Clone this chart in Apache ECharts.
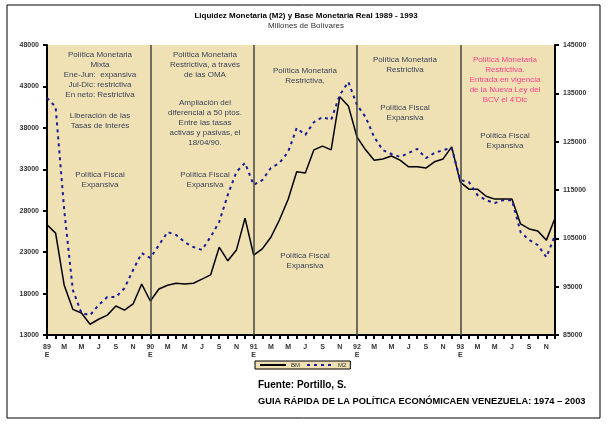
<!DOCTYPE html>
<html><head><meta charset="utf-8">
<script src="https://cdn.jsdelivr.net/npm/echarts@6/dist/echarts.min.js"></script>
<style>html,body{margin:0;background:#fff}#c{width:612px;height:424px}</style>
</head><body><div id="c"></div>
<script>
const FUENTE = 'Liberation Sans, Arial, sans-serif';
const FONDO = '#efe1b3';

// Meses ene-1989 .. dic-1993
const ANIOS = ['89', '90', '91', '92', '93'];
const INICIALES = ['E', 'F', 'M', 'A', 'M', 'J', 'J', 'A', 'S', 'O', 'N', 'D'];
const meses = [];
ANIOS.forEach(a => INICIALES.forEach((m, i) => meses.push(i === 0 ? a + '\nE' : m)));

// Base Monetaria real (eje izq.) y M2 (eje der.), millones de Bs.
const BM = [
  26300, 25300, 19000, 16100, 15650, 14300, 14900, 15400, 16500, 16000, 16750, 19150,
  17100, 18550, 19000, 19250, 19150, 19250, 19750, 20250, 23600, 21950, 23250, 27100,
  22650, 23400, 24800, 26900, 29350, 32700, 32550, 35350, 35800, 35350, 41750, 40650,
  36900, 35350, 34100, 34250, 34600, 34100, 33300, 33300, 33150, 33900, 34250, 35700,
  31450, 30600, 30600, 29750, 29400, 29400, 29400, 26400, 25800, 25550, 24450, 27100
];
const M2 = [
  134050, 132200, 110850, 94300, 89550, 89100, 91200, 92850, 92850, 94700, 98450, 101950,
  100950, 103600, 106300, 105700, 104200, 103200, 102600, 105300, 108400, 114000, 118750, 120600,
  116050, 117050, 119550, 120600, 122850, 127800, 126400, 129050, 130100, 129500, 134650, 137350,
  132600, 130100, 125950, 123250, 122450, 121850, 122650, 123500, 121600, 122650, 123250, 123700,
  117050, 116650, 113950, 112900, 112300, 112900, 112900, 106300, 104650, 103600, 101100, 105650
];

// Notas por periodo: [x, y, texto, color]
const NOTAS = [
  [100, 50, 'Política Monetaria\nMixta\nEne-Jun:  expansiva\nJul-Dic: restrictiva\nEn neto: Restrictiva'],
  [100, 111, 'Liberación de las\nTasas de Interés'],
  [100, 170, 'Política Fiscal\nExpansiva'],
  [205, 50, 'Política Monetaria\nRestrictiva, a través\nde las OMA'],
  [205, 98, 'Ampliación del\ndiferencial a 50 ptos.\nEntre las tasas\nactivas y pasivas, el\n18/04/90.'],
  [205, 170, 'Política Fiscal\nExpansiva'],
  [305, 66, 'Política Monetaria\nRestrictiva,'],
  [305, 251, 'Política Fiscal\nExpansiva'],
  [405, 55, 'Política Monetaria\nRestrictiva'],
  [405, 103, 'Política Fiscal\nExpansiva'],
  [505, 55, 'Política Monetaria\nRestrictiva.\nEntrada en vigencia\nde la Nueva Ley del\nBCV el 4\'Dic', '#ff3366'],
  [505, 131, 'Política Fiscal\nExpansiva']
];

const chart = echarts.init(document.getElementById('c'));
const ejeY = {
  type: 'value', splitLine: { show: false },
  axisLine: { show: true, lineStyle: { color: '#000', width: 2 } },
  axisTick: { show: true, length: 4, lineStyle: { color: '#000', width: 2 } },
  axisLabel: { color: '#333', fontSize: 7, fontWeight: 'bold', fontFamily: FUENTE,
               formatter: v => String(v) }
};

chart.setOption({
  animation: false,
  textStyle: { fontFamily: FUENTE },
  title: {
    text: 'Liquidez Monetaria (M2) y Base Monetaria Real 1989 - 1993',
    subtext: 'Millones de Bolívares',
    left: 'center', top: 7, itemGap: 2,
    textStyle: { fontSize: 8, fontWeight: 'bold', color: '#000' },
    subtextStyle: { fontSize: 8, color: '#333' }
  },
  grid: { left: 47, right: 57, top: 45, bottom: 89, show: true, backgroundColor: FONDO, borderWidth: 0 },
  legend: {
    left: 255, top: 361, itemWidth: 26, itemHeight: 6, itemGap: 6,
    backgroundColor: FONDO, borderColor: '#000', borderWidth: 1, padding: [1, 4],
    textStyle: { fontSize: 6, color: '#333' }, itemStyle: { opacity: 0 },
    data: ['BM', 'M2']
  },
  xAxis: {
    type: 'category', data: meses, boundaryGap: false,
    axisLine: { lineStyle: { color: '#000', width: 2 } },
    axisTick: { interval: 0, length: 4, lineStyle: { color: '#000', width: 2 } },
    axisLabel: { interval: 1, color: '#333', fontSize: 7, fontWeight: 'bold', lineHeight: 8 }
  },
  yAxis: [
    Object.assign({ min: 13000, max: 48000, interval: 5000 }, ejeY),
    Object.assign({ min: 85000, max: 145000, interval: 10000, position: 'right' }, ejeY)
  ],
  series: [
    { name: 'BM', type: 'line', data: BM, yAxisIndex: 0, symbol: 'none',
      lineStyle: { color: '#000', width: 1.5 }, itemStyle: { color: '#000' },
      markLine: { silent: true, symbol: 'none', label: { show: false },
                  lineStyle: { color: '#444', width: 1.5, type: 'solid' },
                  data: [12, 24, 36, 48].map(i => ({ xAxis: i })) } },
    { name: 'M2', type: 'line', data: M2, yAxisIndex: 1, symbol: 'none',
      lineStyle: { color: '#1a1a99', width: 2, type: [3, 4] }, itemStyle: { color: '#1a1a99' } }
  ],
  graphic: [
    { type: 'rect', shape: { x: 7, y: 5, width: 593, height: 413 },
      style: { fill: 'none', stroke: '#000', lineWidth: 1 }, z: -10 },
    ...NOTAS.map(([x, y, t, c]) => ({
      type: 'text', x: x, y: y, z: 50,
      style: { text: t, fill: c || '#333', fontSize: 8, lineHeight: 10, align: 'center',
               fontFamily: FUENTE, textShadowColor: '#fff', textShadowBlur: 1 }
    })),
    { type: 'text', x: 258, y: 380, style: { text: 'Fuente: Portillo, S.', fill: '#000',
      fontSize: 10, fontWeight: 'bold', fontFamily: FUENTE } },
    { type: 'text', x: 258, y: 397, style: { text: 'GUIA RÁPIDA DE LA POLÍTICA ECONÓMICAEN VENEZUELA: 1974 – 2003',
      fill: '#000', fontSize: 9.3, fontWeight: 'bold', fontFamily: FUENTE } }
  ]
});
</script></body></html>
